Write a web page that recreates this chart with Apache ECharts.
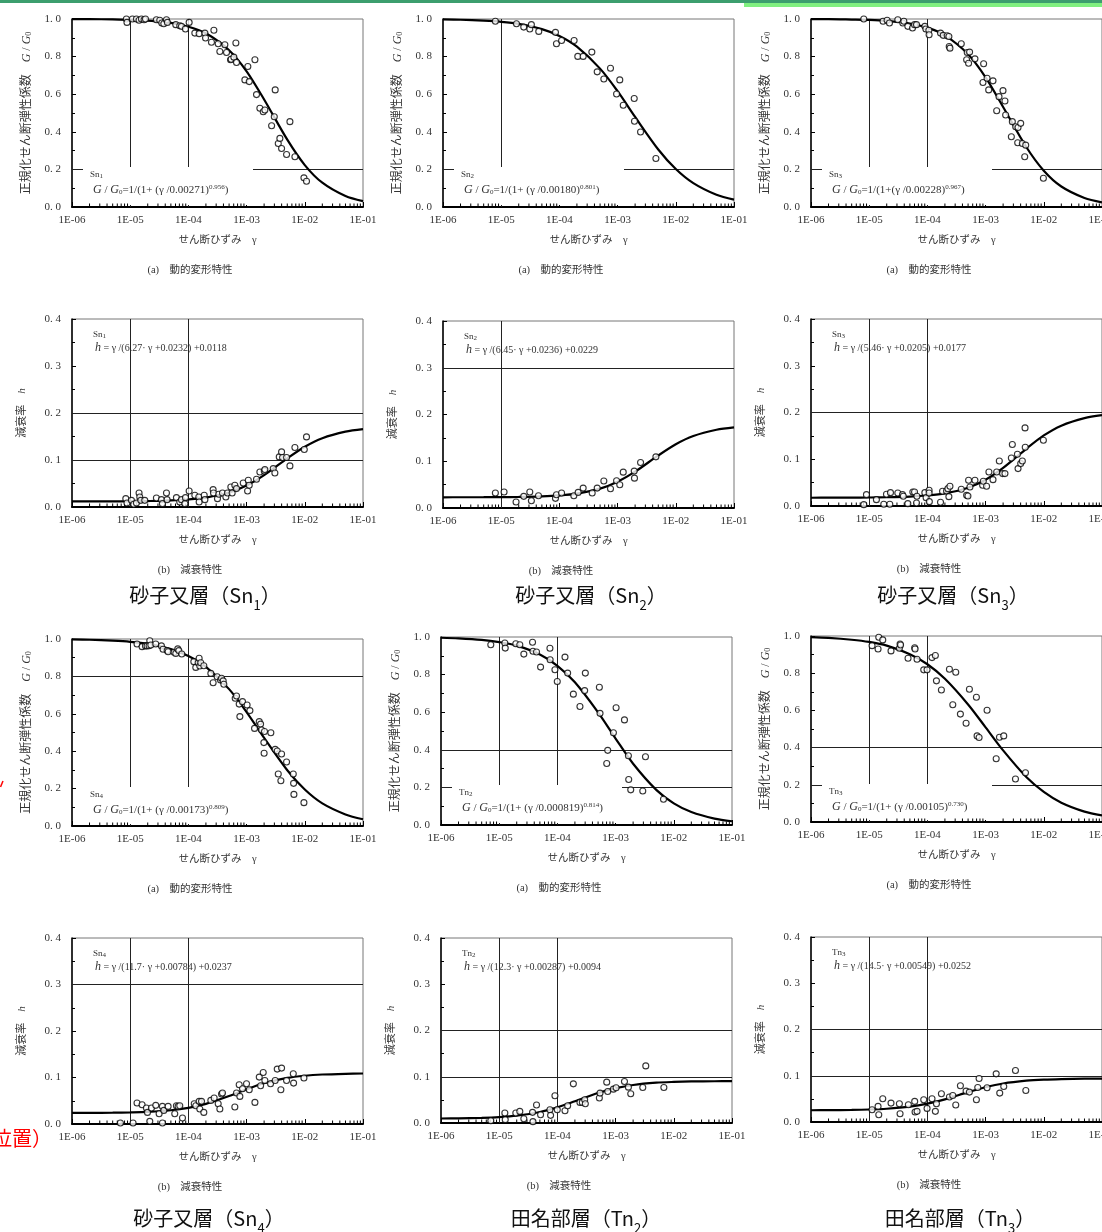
<!DOCTYPE html>
<html><head><meta charset="utf-8">
<script src="https://cdn.jsdelivr.net/npm/echarts@6/dist/echarts.min.js"></script>
<style>html,body{margin:0;padding:0;background:#fff;overflow:hidden}#c{width:1102px;height:1232px}</style>
</head><body><div id="c"></div>
<script>
// ---------------- data ----------------
const xTickLabels = ['1E-06','1E-05','1E-04','1E-03','1E-02','1E-01'];
const minorMultipliers = [2,3,4,5,6,7,8,9];
const decades = [1e-6,1e-5,1e-4,1e-3,1e-2];
const curveStrain = [1e-6,2e-6,5e-6,1e-5,2e-5,5e-5,1e-4,2e-4,5e-4,1e-3,2e-3,5e-3,1e-2,2e-2,5e-2,1e-1];

const sn1G_curve = [0.999,0.999,0.998,0.995,0.991,0.979,0.959,0.924,0.834,0.722,0.572,0.358,0.223,0.129,0.058,0.031];
const sn2G_curve = [0.998,0.996,0.991,0.985,0.974,0.946,0.910,0.853,0.736,0.616,0.479,0.306,0.202,0.127,0.065,0.039];
const sn3G_curve = [0.999,0.999,0.997,0.995,0.990,0.976,0.954,0.913,0.813,0.690,0.532,0.319,0.193,0.109,0.048,0.025];
const sn4G_curve = [0.998,0.996,0.991,0.985,0.974,0.946,0.909,0.851,0.732,0.609,0.471,0.298,0.195,0.121,0.062,0.036];
const tn2G_curve = [0.996,0.993,0.985,0.973,0.954,0.907,0.847,0.759,0.599,0.460,0.326,0.187,0.115,0.069,0.034,0.020];
const tn3G_curve = [0.994,0.990,0.980,0.968,0.948,0.902,0.848,0.770,0.632,0.509,0.385,0.242,0.162,0.104,0.056,0.035];

const sn1h_curve = [0.0118,0.0119,0.0120,0.0122,0.0127,0.0139,0.0160,0.0200,0.0308,0.0457,0.0678,0.1035,0.1282,0.1464,0.1603,0.1656];
const sn2h_curve = [0.0229,0.0230,0.0231,0.0233,0.0237,0.0250,0.0270,0.0309,0.0415,0.0562,0.0777,0.1124,0.1364,0.1540,0.1674,0.1725];
const sn3h_curve = [0.0177,0.0178,0.0179,0.0182,0.0187,0.0201,0.0225,0.0270,0.0392,0.0562,0.0814,0.1223,0.1509,0.1719,0.1881,0.1942];
const sn4h_curve = [0.0238,0.0240,0.0243,0.0250,0.0262,0.0296,0.0348,0.0433,0.0602,0.0749,0.0877,0.0991,0.1038,0.1064,0.1080,0.1086];
const tn2h_curve = [0.0097,0.0101,0.0111,0.0127,0.0158,0.0237,0.0338,0.0469,0.0648,0.0753,0.0822,0.0871,0.0888,0.0898,0.0903,0.0905];
const tn3h_curve = [0.0254,0.0256,0.0261,0.0270,0.0287,0.0332,0.0396,0.0490,0.0645,0.0752,0.0832,0.0893,0.0917,0.0929,0.0937,0.0939];

const sn1G_pts = [[8.6e-6,1.0],[8.8e-6,0.982],[1.09e-5,1.0],[1.28e-5,1.0],[1.42e-5,0.993],[1.56e-5,1.0],[1.73e-5,0.996],[1.83e-5,1.0],[2.82e-5,0.996],[3.22e-5,0.993],[3.49e-5,0.979],[3.78e-5,0.975],[4.2e-5,0.996],[4.36e-5,0.982],[6.07e-5,0.970],[7.11e-5,0.964],[7.6e-5,0.961],[8.9e-5,0.947],[1.03e-4,0.982],[1.29e-4,0.925],[1.53e-4,0.922],[1.92e-4,0.925],[1.97e-4,0.899],[2.49e-4,0.876],[2.74e-4,0.940],[3.25e-4,0.868],[3.47e-4,0.827],[4.23e-4,0.863],[4.52e-4,0.822],[5.3e-4,0.783],[5.43e-4,0.786],[6.04e-4,0.797],[6.54e-4,0.872],[6.71e-4,0.769],[9.34e-4,0.676],[1.05e-3,0.747],[1.11e-3,0.667],[1.39e-3,0.783],[1.48e-3,0.598],[1.69e-3,0.525],[1.93e-3,0.507],[2.06e-3,0.516],[2.69e-3,0.432],[2.99e-3,0.480],[3.1e-3,0.623],[3.5e-3,0.338],[3.73e-3,0.365],[3.99e-3,0.311],[4.86e-3,0.279],[5.55e-3,0.454],[6.76e-3,0.267],[9.66e-3,0.155],[1.07e-2,0.137]];
const sn2G_pts = [[7.94e-6,0.988],[1.83e-5,0.975],[2.44e-5,0.957],[3.1e-5,0.947],[3.3e-5,0.970],[4.42e-5,0.934],[8.56e-5,0.929],[8.9e-5,0.868],[1.09e-4,0.886],[1.79e-4,0.886],[2.07e-4,0.801],[2.56e-4,0.801],[3.61e-4,0.824],[4.46e-4,0.719],[5.8e-4,0.681],[7.55e-4,0.738],[9.6e-4,0.601],[1.09e-3,0.676],[1.25e-3,0.541],[1.93e-3,0.577],[1.95e-3,0.456],[2.48e-3,0.399],[4.55e-3,0.258]];
const sn3G_pts = [[8.07e-6,1.0],[1.73e-5,0.988],[2.03e-5,0.993],[2.23e-5,0.979],[3.1e-5,0.996],[3.78e-5,0.979],[3.94e-5,0.988],[4.61e-5,0.961],[5.55e-5,0.952],[6.01e-5,0.970],[6.5e-5,0.970],[9.04e-5,0.961],[9.41e-5,0.947],[1.06e-4,0.940],[1.07e-4,0.916],[1.68e-4,0.925],[1.87e-4,0.913],[2.19e-4,0.911],[2.34e-4,0.907],[2.37e-4,0.854],[2.44e-4,0.845],[3.82e-4,0.868],[4.72e-4,0.783],[4.84e-4,0.822],[5.1e-4,0.765],[5.31e-4,0.824],[6.56e-4,0.788],[9.01e-4,0.662],[9.25e-4,0.762],[1.06e-3,0.685],[1.13e-3,0.623],[1.34e-3,0.671],[1.55e-3,0.512],[1.70e-3,0.587],[1.99e-3,0.619],[2.15e-3,0.564],[2.21e-3,0.489],[2.77e-3,0.374],[2.88e-3,0.454],[3.29e-3,0.427],[3.56e-3,0.342],[3.61e-3,0.423],[4.01e-3,0.445],[4.28e-3,0.338],[4.7e-3,0.267],[4.89e-3,0.329],[9.84e-3,0.153]];
const sn4G_pts = [[1.31e-5,0.973],[1.6e-5,0.959],[1.83e-5,0.963],[1.95e-5,0.963],[2.17e-5,0.991],[2.11e-5,0.964],[2.26e-5,0.968],[2.75e-5,0.973],[3.44e-5,0.963],[3.67e-5,0.945],[4.31e-5,0.938],[4.48e-5,0.932],[5.68e-5,0.929],[6.07e-5,0.923],[6.57e-5,0.947],[6.84e-5,0.938],[7.7e-5,0.920],[1.24e-4,0.879],[1.34e-4,0.848],[1.47e-4,0.873],[1.53e-4,0.897],[1.57e-4,0.856],[1.63e-4,0.873],[1.84e-4,0.857],[2.43e-4,0.816],[2.66e-4,0.766],[3.12e-4,0.798],[3.56e-4,0.781],[3.71e-4,0.790],[3.96e-4,0.776],[4.06e-4,0.758],[6.37e-4,0.683],[6.71e-4,0.695],[7.46e-4,0.652],[7.66e-4,0.585],[8.51e-4,0.665],[1.02e-3,0.647],[1.14e-3,0.617],[1.37e-3,0.522],[1.65e-3,0.558],[1.74e-3,0.545],[1.81e-3,0.513],[1.98e-3,0.446],[2.03e-3,0.505],[2.0e-3,0.389],[2.61e-3,0.499],[3.1e-3,0.410],[3.36e-3,0.401],[3.5e-3,0.278],[3.99e-3,0.385],[3.88e-3,0.242],[4.86e-3,0.342],[6.34e-3,0.278],[6.42e-3,0.228],[6.5e-3,0.169],[9.66e-3,0.125]];
const tn2G_pts = [[7.17e-6,0.959],[1.25e-5,0.968],[1.27e-5,0.941],[1.93e-5,0.964],[2.26e-5,0.959],[2.65e-5,0.909],[3.74e-5,0.972],[3.8e-5,0.924],[4.38e-5,0.920],[5.14e-5,0.840],[7.44e-5,0.940],[7.5e-5,0.879],[9.07e-5,0.826],[9.95e-5,0.763],[1.35e-4,0.893],[1.5e-4,0.808],[1.88e-4,0.696],[2.44e-4,0.630],[2.94e-4,0.715],[3.02e-4,0.808],[5.26e-4,0.733],[5.4e-4,0.594],[7.04e-4,0.327],[7.32e-4,0.397],[9.17e-4,0.491],[1.02e-3,0.624],[1.42e-3,0.559],[1.66e-3,0.368],[1.68e-3,0.242],[1.82e-3,0.187],[2.93e-3,0.181],[3.26e-3,0.363],[6.65e-3,0.137]];
const tn3G_pts = [[1.12e-5,0.948],[1.42e-5,0.930],[1.46e-5,0.993],[1.71e-5,0.979],[2.37e-5,0.920],[3.3e-5,0.934],[3.39e-5,0.957],[3.46e-5,0.952],[4.65e-5,0.880],[6.05e-5,0.937],[6.14e-5,0.930],[6.64e-5,0.875],[8.65e-5,0.818],[9.87e-5,0.818],[1.2e-4,0.884],[1.37e-4,0.895],[1.43e-4,0.759],[1.74e-4,0.710],[2.39e-4,0.821],[2.73e-4,0.630],[3.07e-4,0.805],[3.69e-4,0.580],[4.62e-4,0.531],[5.27e-4,0.714],[6.95e-4,0.671],[7.14e-4,0.463],[7.73e-4,0.454],[1.06e-3,0.601],[1.52e-3,0.340],[1.73e-3,0.456],[2.05e-3,0.463],[3.26e-3,0.231],[4.84e-3,0.265]];

const sn1h_pts = [[8.4e-6,0.0178],[8.8e-6,0.0085],[1.05e-5,0.0142],[1.15e-5,0.0057],[1.28e-5,0.0085],[1.42e-5,0.0298],[1.46e-5,0.0213],[1.52e-5,0.0142],[1.78e-5,0.0142],[2.82e-5,0.0192],[3.44e-5,0.0156],[3.58e-5,0.0071],[4.2e-5,0.0298],[4.3e-5,0.0156],[6.23e-5,0.0199],[7.1e-5,0.0107],[7.6e-5,0.0156],[8.7e-5,0.0071],[8.9e-5,0.0199],[1.03e-4,0.0341],[1.29e-4,0.0249],[1.51e-4,0.0213],[1.53e-4,0.0107],[1.87e-4,0.0249],[1.92e-4,0.0156],[2.66e-4,0.0369],[2.7e-4,0.0298],[3.16e-4,0.0178],[3.33e-4,0.0270],[3.85e-4,0.0298],[4.4e-4,0.0213],[4.7e-4,0.0298],[5.36e-4,0.0426],[5.65e-4,0.0298],[6.28e-4,0.0462],[6.71e-4,0.0391],[8.75e-4,0.0512],[1.04e-3,0.0341],[1.07e-3,0.0568],[1.11e-3,0.0462],[1.48e-3,0.0590],[1.69e-3,0.0746],[2.01e-3,0.0767],[2.06e-3,0.0796],[2.87e-3,0.0817],[3.06e-3,0.0725],[3.64e-3,0.1066],[3.99e-3,0.1172],[4.15e-3,0.1052],[4.86e-3,0.1052],[5.55e-3,0.0874],[6.76e-3,0.1265],[9.8e-3,0.1222],[1.07e-2,0.1492]];
const sn2h_pts = [[7.94e-6,0.0320],[1.12e-5,0.0341],[1.8e-5,0.0128],[2.44e-5,0.0249],[3.1e-5,0.0341],[3.3e-5,0.0156],[4.37e-5,0.0263],[8.56e-5,0.0206],[8.9e-5,0.0284],[1.09e-4,0.0320],[1.77e-4,0.0263],[2.1e-4,0.0334],[2.56e-4,0.0426],[3.66e-4,0.0320],[4.46e-4,0.0426],[5.8e-4,0.0576],[7.55e-4,0.0412],[9.6e-4,0.0583],[1.09e-3,0.0497],[1.25e-3,0.0767],[1.93e-3,0.0789],[1.95e-3,0.0639],[2.48e-3,0.0973],[4.55e-3,0.1094]];
const sn3h_pts = [[8.07e-6,0.0029],[8.97e-6,0.0243],[1.33e-5,0.0136],[1.78e-5,0.0036],[1.98e-5,0.0250],[2.26e-5,0.0036],[2.32e-5,0.0286],[3.1e-5,0.0278],[3.73e-5,0.0243],[3.86e-5,0.0207],[4.61e-5,0.0050],[5.62e-5,0.0300],[6.01e-5,0.0300],[6.5e-5,0.0064],[6.6e-5,0.0207],[9.04e-5,0.0286],[9.5e-5,0.0179],[1.07e-4,0.0336],[1.07e-4,0.0278],[1.08e-4,0.0093],[1.68e-4,0.0079],[1.82e-4,0.0314],[2.13e-4,0.0321],[2.25e-4,0.0371],[2.34e-4,0.0200],[2.44e-4,0.0421],[3.82e-4,0.0357],[4.72e-4,0.0228],[4.97e-4,0.0214],[5.1e-4,0.0550],[5.38e-4,0.0407],[6.56e-4,0.0550],[8.89e-4,0.0443],[9.13e-4,0.0528],[1.04e-3,0.0421],[1.14e-3,0.0728],[1.34e-3,0.0564],[1.55e-3,0.0728],[1.72e-3,0.0964],[1.96e-3,0.0693],[2.15e-3,0.0693],[2.77e-3,0.1028],[2.88e-3,0.1314],[3.52e-3,0.1107],[3.61e-3,0.0800],[4.01e-3,0.0907],[4.28e-3,0.0964],[4.76e-3,0.1671],[4.8e-3,0.1257],[9.84e-3,0.1407]];
const sn4h_pts = [[6.79e-6,0.0021],[1.12e-5,0.0021],[1.31e-5,0.0451],[1.6e-5,0.0415],[1.9e-5,0.0343],[1.98e-5,0.0250],[2.17e-5,0.0057],[2.32e-5,0.0343],[2.75e-5,0.0401],[3.14e-5,0.0222],[3.58e-5,0.0021],[3.58e-5,0.0379],[3.78e-5,0.0293],[4.48e-5,0.0379],[5.83e-5,0.0222],[6.23e-5,0.0394],[6.66e-5,0.0379],[7.11e-5,0.0394],[7.91e-5,0.0129],[1.26e-4,0.0437],[1.34e-4,0.0394],[1.53e-4,0.0487],[1.57e-4,0.0322],[1.68e-4,0.0487],[1.84e-4,0.0250],[2.43e-4,0.0508],[2.77e-4,0.0558],[3.25e-4,0.0437],[3.47e-4,0.0322],[3.71e-4,0.0644],[3.85e-4,0.0666],[6.28e-4,0.0365],[6.71e-4,0.0666],[7.46e-4,0.0844],[7.66e-4,0.0594],[8.51e-4,0.0759],[9.97e-4,0.0866],[1.11e-3,0.0737],[1.39e-3,0.0465],[1.65e-3,0.1009],[1.74e-3,0.0823],[1.93e-3,0.1109],[2.06e-3,0.0937],[2.58e-3,0.0866],[3.1e-3,0.0937],[3.36e-3,0.1181],[3.88e-3,0.0737],[3.99e-3,0.1202],[4.86e-3,0.0937],[6.34e-3,0.1081],[6.42e-3,0.0880],[9.66e-3,0.0988]];
const tn2h_pts = [[7.17e-6,0.0050],[1.25e-5,0.0215],[1.27e-5,0.0072],[1.93e-5,0.0215],[2.26e-5,0.0251],[2.65e-5,0.0093],[3.74e-5,0.0230],[3.8e-5,0.0029],[4.38e-5,0.0388],[5.14e-5,0.0180],[7.44e-5,0.0287],[7.64e-5,0.0165],[9.07e-5,0.0589],[9.95e-5,0.0287],[1.35e-4,0.0266],[1.5e-4,0.0373],[1.88e-4,0.0847],[2.44e-4,0.0445],[2.68e-4,0.0445],[2.94e-4,0.0503],[3.02e-4,0.0416],[5.26e-4,0.0539],[5.4e-4,0.0646],[7.04e-4,0.0883],[7.32e-4,0.0682],[9.17e-4,0.0732],[1.02e-3,0.0761],[1.42e-3,0.0898],[1.66e-3,0.0775],[1.82e-3,0.0632],[2.93e-3,0.0768],[3.3e-3,0.1235],[6.75e-3,0.0768]];
const tn3h_pts = [[1.12e-5,0.0266],[1.42e-5,0.0337],[1.46e-5,0.0158],[1.71e-5,0.0503],[2.37e-5,0.0409],[3.3e-5,0.0395],[3.39e-5,0.0180],[4.71e-5,0.0373],[6.05e-5,0.0445],[6.14e-5,0.0215],[6.64e-5,0.0230],[8.65e-5,0.0481],[9.87e-5,0.0294],[1.2e-4,0.0503],[1.37e-4,0.0230],[1.43e-4,0.0395],[1.74e-4,0.0610],[2.39e-4,0.0539],[2.73e-4,0.0574],[3.07e-4,0.0366],[3.69e-4,0.0783],[4.62e-4,0.0668],[5.27e-4,0.0646],[6.95e-4,0.0481],[7.33e-4,0.0747],[7.73e-4,0.0941],[1.06e-3,0.0740],[1.52e-3,0.1041],[1.75e-3,0.0625],[2.05e-3,0.0768],[3.26e-3,0.1113],[4.91e-3,0.0682]];

const sn1G_formula = '{i|G} / {i|G}{sub|0}=1/(1+ (γ /0.00271){sup|0.956})';
const sn2G_formula = '{i|G} / {i|G}{sub|0}=1/(1+ (γ /0.00180){sup|0.801})';
const sn3G_formula = '{i|G} / {i|G}{sub|0}=1/(1+(γ /0.00228){sup|0.967})';
const sn4G_formula = '{i|G} / {i|G}{sub|0}=1/(1+ (γ /0.00173){sup|0.809})';
const tn2G_formula = '{i|G} / {i|G}{sub|0}=1/(1+ (γ /0.000819){sup|0.814})';
const tn3G_formula = '{i|G} / {i|G}{sub|0}=1/(1+ (γ /0.00105){sup|0.730})';
const sn1h_formula = '{i|h} = γ /(6.27· γ +0.0232) +0.0118';
const sn2h_formula = '{i|h} = γ /(6.45· γ +0.0236) +0.0229';
const sn3h_formula = '{i|h} = γ /(5.46· γ +0.0205) +0.0177';
const sn4h_formula = '{i|h} = γ /(11.7· γ +0.00784) +0.0237';
const tn2h_formula = '{i|h} = γ /(12.3· γ +0.00287) +0.0094';
const tn3h_formula = '{i|h} = γ /(14.5· γ +0.00549) +0.0252';

const layerTitles = ['砂子又層（Sn{sub|1}）','砂子又層（Sn{sub|2}）','砂子又層（Sn{sub|3}）','砂子又層（Sn{sub|4}）','田名部層（Tn{sub|2}）','田名部層（Tn{sub|3}）'];
const captionG = '(a)　動的変形特性';
const captionH = '(b)　減衰特性';
const xName = 'せん断ひずみ　γ';
const yNameG = '正規化せん断弾性係数　{i|G} / {i|G}{sub|0}';
const yNameH = '減衰率　{i|h}';

// ---------------- layout ----------------
const panels = [
  {box:[72,19,291,188],  kind:'G', pts:sn1G_pts, curve:sn1G_curve, vLines:[1e-5,1e-4], hLines:[0.2], tag:'Sn{sub|1}', formula:sn1G_formula},
  {box:[443,19,291,188], kind:'G', pts:sn2G_pts, curve:sn2G_curve, vLines:[1e-5], hLines:[0.2], tag:'Sn{sub|2}', formula:sn2G_formula},
  {box:[811,19,291,188], kind:'G', pts:sn3G_pts, curve:sn3G_curve, vLines:[1e-5,1e-4], hLines:[0.2], tag:'Sn{sub|3}', formula:sn3G_formula},
  {box:[72,319,291,188], kind:'h', pts:sn1h_pts, curve:sn1h_curve, vLines:[1e-5,1e-4], hLines:[0.1,0.2], tag:'Sn{sub|1}', formula:sn1h_formula, title:layerTitles[0], titleX:205, titleY:595},
  {box:[443,321,291,187], kind:'h', pts:sn2h_pts, curve:sn2h_curve, vLines:[1e-5], hLines:[0.3], tag:'Sn{sub|2}', formula:sn2h_formula, title:layerTitles[1], titleX:591, titleY:595},
  {box:[811,319,291,187], kind:'h', pts:sn3h_pts, curve:sn3h_curve, vLines:[1e-5,1e-4], hLines:[0.2], tag:'Sn{sub|3}', formula:sn3h_formula, title:layerTitles[2], titleX:953, titleY:595},
  {box:[72,639,291,187], kind:'G', pts:sn4G_pts, curve:sn4G_curve, vLines:[1e-5,1e-4], hLines:[0.8], tag:'Sn{sub|4}', formula:sn4G_formula},
  {box:[441,637,291,188], kind:'G', pts:tn2G_pts, curve:tn2G_curve, vLines:[1e-5,1e-4], hLines:[0.4,0.2], tag:'Tn{sub|2}', formula:tn2G_formula},
  {box:[811,636,291,186], kind:'G', pts:tn3G_pts, curve:tn3G_curve, vLines:[1e-5,1e-4], hLines:[0.4,0.2], tag:'Tn{sub|3}', formula:tn3G_formula},
  {box:[72,938,291,186], kind:'h', pts:sn4h_pts, curve:sn4h_curve, vLines:[1e-5,1e-4], hLines:[0.3], tag:'Sn{sub|4}', formula:sn4h_formula, title:layerTitles[3], titleX:209, titleY:1218},
  {box:[441,938,291,185], kind:'h', pts:tn2h_pts, curve:tn2h_curve, vLines:[1e-5,1e-4], hLines:[0.1,0.2], tag:'Tn{sub|2}', formula:tn2h_formula, title:layerTitles[4], titleX:586, titleY:1218},
  {box:[811,937,291,185], kind:'h', pts:tn3h_pts, curve:tn3h_curve, vLines:[1e-5,1e-4], hLines:[0.1,0.2], tag:'Tn{sub|3}', formula:tn3h_formula, title:layerTitles[5], titleX:960, titleY:1218}
];

const FS = '"Liberation Serif","Noto Sans CJK JP",serif';
const FJ = '"Noto Sans CJK JP","Liberation Sans",sans-serif';
const TXT = '#333';
const richSmall = {
  i:{fontStyle:'italic', fontFamily:FS},
  sub:{fontSize:7, verticalAlign:'bottom', fontFamily:FS},
  sup:{fontSize:7, verticalAlign:'top', fontFamily:FS}
};

const minorTicks = [];
decades.forEach(d => minorMultipliers.forEach(k => minorTicks.push([k*d, 0])));

function xLabel(v){ const k = Math.round(Math.log10(v)) + 6; return xTickLabels[k] || ''; }

const grids=[], xAxes=[], yAxes=[], series=[], graphics=[];

panels.forEach((p,i) => {
  const [L,T,W,H] = p.box;
  const isG = p.kind === 'G';
  const yMax = isG ? 1 : 0.4;
  grids.push({left:L, top:T, width:W, height:H, show:true, borderColor:'#777', borderWidth:1,
    backgroundColor:'transparent', containLabel:false, outerBoundsMode:'none'});
  xAxes.push({
    gridIndex:i, type:'log', logBase:10, min:1e-6, max:1e-1,
    axisLine:{show:true, onZero:false, lineStyle:{color:'#000', width:2}},
    axisTick:{show:true, inside:true, length:5, lineStyle:{color:'#000', width:1}},
    axisLabel:{formatter:xLabel, fontSize:11, color:TXT, margin:8, fontFamily:FS, hideOverlap:false},
    splitLine:{show:false},
    name:xName, nameLocation:'middle', nameGap:28,
    nameTextStyle:{fontSize:10.5, color:TXT, fontFamily:FS}
  });
  yAxes.push({
    gridIndex:i, type:'value', min:0, max:yMax, interval:isG?0.2:0.1,
    axisLine:{show:true, onZero:false, lineStyle:{color:'#000', width:1.5}},
    axisTick:{show:true, inside:true, length:4, lineStyle:{color:'#000'}},
    minorTick:{show:true, splitNumber:2, length:3, lineStyle:{color:'#000'}},
    axisLabel:{formatter:v => v.toFixed(1).replace('.', '. '), fontSize:11, color:TXT, margin:11, fontFamily:FS},
    splitLine:{show:false},
    name:isG?yNameG:yNameH, nameLocation:'middle', nameGap:isG?39:44,
    nameTextStyle:{fontSize:isG?12:11, color:TXT, fontFamily:FS, rich:{
      i:{fontStyle:'italic', fontFamily:FS, fontSize:isG?12:11, color:TXT},
      sub:{fontSize:8, verticalAlign:'bottom', fontFamily:FS, color:TXT}
    }}
  });
  series.push({
    type:'line', xAxisIndex:i, yAxisIndex:i, z:8, silent:true,
    data:curveStrain.map((x,j) => [x, p.curve[j]]),
    showSymbol:false, smooth:0.3,
    lineStyle:{color:'#000', width:2.2},
    markLine:{
      silent:true, symbol:'none', z:1, animation:false,
      label:{show:false},
      lineStyle:{color:'#222', width:1, type:'solid'},
      emphasis:{disabled:true},
      data:[
        ...p.vLines.map(x => [{coord:[x, 0]}, {coord:[x, yMax]}]),
        ...p.hLines.map(y => [{coord:[1e-6, y]}, {coord:[1e-1, y]}])
      ]
    }
  });
  series.push({
    type:'scatter', xAxisIndex:i, yAxisIndex:i, z:9, silent:true,
    data:p.pts, symbol:'circle', symbolSize:6,
    itemStyle:{color:'#fff', borderColor:'#000', borderWidth:1.1}
  });
  series.push({
    type:'custom', xAxisIndex:i, yAxisIndex:i, z:8, silent:true, clip:false,
    data:minorTicks,
    renderItem:(params, api) => {
      const c = api.coord([api.value(0), api.value(1)]);
      return {type:'line', shape:{x1:c[0], y1:c[1], x2:c[0], y2:c[1]-3.5}, style:{stroke:'#000', lineWidth:1}};
    }
  });

  // annotations
  if (isG) {
    graphics.push({type:'rect', z:6, silent:true, shape:{x:L+11, y:T+148, width:170, height:H-150}, style:{fill:'#fff'}});
    graphics.push({type:'text', z:7, silent:true, x:L+18, y:T+156, style:{text:p.tag, fontSize:9, fontFamily:FS, fill:TXT, align:'left', verticalAlign:'middle', textAlign:'left', textVerticalAlign:'middle', rich:richSmall}});
    graphics.push({type:'text', z:7, silent:true, x:L+21, y:T+171, style:{text:p.formula, fontSize:11, fontFamily:FS, fill:TXT, align:'left', verticalAlign:'middle', textAlign:'left', textVerticalAlign:'middle', rich:richSmall}});
  } else {
    graphics.push({type:'text', z:7, silent:true, x:L+21, y:T+16, style:{text:p.tag, fontSize:9, fontFamily:FS, fill:TXT, align:'left', verticalAlign:'middle', textAlign:'left', textVerticalAlign:'middle', rich:richSmall}});
    graphics.push({type:'text', z:7, silent:true, x:L+23, y:T+29, style:{text:p.formula, fontSize:10, fontFamily:FS, fill:TXT, align:'left', verticalAlign:'middle', textAlign:'left', textVerticalAlign:'middle', rich:richSmall}});
  }
  graphics.push({type:'text', z:7, silent:true, x:L+118, y:T+H+63, style:{text:isG?captionG:captionH, fontSize:10.5, fontFamily:FS, fill:TXT, align:'center', verticalAlign:'middle', textAlign:'center', textVerticalAlign:'middle'}});
  if (p.title) {
    graphics.push({type:'text', z:7, silent:true, x:p.titleX, y:p.titleY, style:{text:p.title, fontSize:20, fontFamily:FJ, fill:'#111', align:'center', verticalAlign:'middle', textAlign:'center', textVerticalAlign:'middle',
      rich:{sub:{fontSize:13, lineHeight:34, fontFamily:FJ, fill:'#111', verticalAlign:'bottom'}}}});
  }
});

// page decorations
graphics.push({type:'rect', z:7, silent:true, shape:{x:0, y:0, width:1102, height:3}, style:{fill:'#3c9e6e'}});
graphics.push({type:'rect', z:7, silent:true, shape:{x:744, y:3, width:358, height:4}, style:{fill:'#80f080'}});
graphics.push({type:'text', z:7, silent:true, x:52, y:1138, style:{text:'位置）', fontSize:20, fontFamily:FJ, fill:'#ff0000', align:'right', verticalAlign:'middle', textAlign:'right', textVerticalAlign:'middle'}});
graphics.push({type:'line', z:7, silent:true, shape:{x1:0.5, y1:787, x2:3, y2:781}, style:{stroke:'#ff0000', lineWidth:1.5}});

const chart = echarts.init(document.getElementById('c'), null, {renderer:'canvas'});
chart.setOption({
  animation:false,
  backgroundColor:'#fff',
  grid:grids, xAxis:xAxes, yAxis:yAxes, series:series,
  graphic:{elements:graphics}
});
</script></body></html>
